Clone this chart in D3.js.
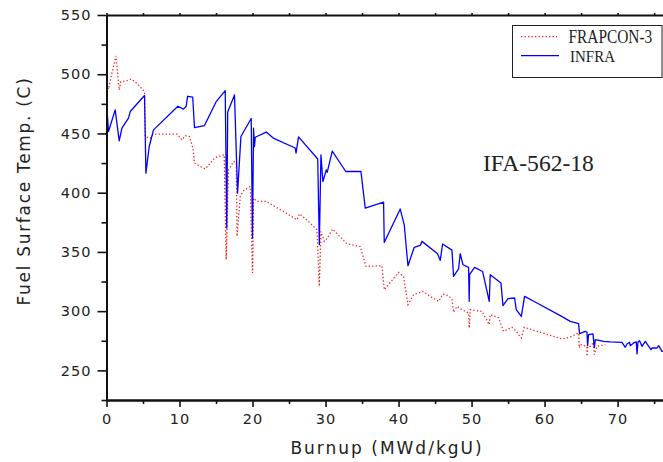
<!DOCTYPE html>
<html><head><meta charset="utf-8">
<script src="https://cdn.jsdelivr.net/npm/d3@7"></script>
<style>
html,body{margin:0;padding:0;background:#fff;}
svg{display:block;}
.tick text{font-family:"DejaVu Sans",sans-serif;font-size:14.5px;letter-spacing:1px;fill:#222;}
</style></head>
<body>
<svg id="chart" width="663" height="462"></svg>
<script>
// ---- data (burnup MWd/kgU, temperature C) ----
const infraBurnup = [0.0,0.05,0.27,1.19,1.74,2.11,3.01,3.25,5.21,5.40,5.85,6.44,9.78,10.55,10.92,11.10,11.81,12.05,13.42,15.0,16.26,16.47,16.6,17.53,17.95,18.41,19.82,19.99,20.14,20.27,20.37,21.88,22.84,25.85,25.96,26.30,28.93,29.15,29.37,29.64,30.10,30.23,30.92,32.77,34.85,35.44,37.95,38.04,40.23,40.78,41.15,41.29,42.15,42.97,43.21,45.34,45.71,46.03,47.32,47.53,48.22,48.45,48.82,49.59,49.68,49.73,50.41,51.51,52.42,52.56,54.03,54.30,54.99,55.89,56.12,56.81,57.26,58.96,62.15,63.52,64.66,64.79,65.58,65.81,65.89,66.03,66.63,66.81,66.95,68.08,69.0,70.60,71.05,71.29,71.64,71.74,72.19,72.56,72.66,72.79,73.01,73.34,73.79,74.58,74.71,75.40,75.62,76.08,76.5];
const infraTemp = [400.8,472.7,451.6,469.9,443.8,454.5,462.9,468.5,482.0,416.5,439.0,453.0,473.0,470.5,473.0,481.4,480.6,455.0,456.7,476.6,486.2,370.1,468.2,482.5,399.7,447.4,462.6,361.7,454.5,439.0,446.8,451.2,446.1,437.7,433.4,447.1,428.4,356.1,432.0,409.4,419.3,417.2,435.1,417.9,417.9,387.0,392.1,358.0,386.2,372.9,347.6,338.4,353.9,355.5,358.9,348.5,342.8,356.7,351.5,329.3,335.6,348.5,339.2,336.9,308.3,330.8,336.9,333.5,308.3,330.8,323.8,304.6,310.5,311.1,301.3,295.6,312.5,306.9,296.2,291.4,289.5,281.0,283.0,282.2,270.9,280.2,280.8,269.2,276.0,274.5,274.0,273.7,269.5,272.3,273.7,270.9,273.2,274.0,263.9,274.0,275.1,270.3,274.5,267.5,268.9,268.9,270.9,266.1,266.0];

const frapBurnup = [0.0,0.05,0.27,0.74,1.29,1.74,1.97,2.66,3.38,4.16,5.21,5.30,5.99,6.40,9.68,10.33,10.78,11.37,11.84,12.05,12.84,13.52,14.21,14.89,16.12,16.40,16.71,17.40,17.77,17.88,18.32,18.77,19.68,20.0,20.14,20.60,21.88,24.25,26.08,26.44,27.67,28.82,29.14,29.37,29.82,30.27,30.96,32.01,32.93,34.75,35.53,37.73,38.04,40.0,40.68,41.29,42.05,43.34,44.34,45.48,46.08,46.85,47.32,47.53,48.0,48.68,49.59,49.68,49.82,51.42,52.42,52.56,53.70,54.38,55.53,56.12,56.81,57.22,58.96,61.92,62.38,63.52,64.66,64.75,64.89,65.78,65.81,65.92,66.26,66.71,66.81,67.18,68.32];
const frapTemp = [468.0,490.0,487.3,500.8,515.4,486.8,493.8,494.3,496.0,492.4,485.3,447.4,446.0,449.4,449.4,444.6,448.2,447.4,437.6,425.0,422.1,420.1,425.0,429.7,432.0,343.4,419.3,426.3,425.2,363.1,396.8,401.6,405.2,332.2,395.4,392.6,392.6,384.1,377.1,382.2,375.7,368.7,320.9,367.3,358.9,361.7,369.3,362.6,356.9,354.6,337.8,338.4,318.1,332.7,329.3,305.5,313.9,316.7,312.5,308.3,314.5,313.1,309.7,299.0,304.0,301.3,298.5,285.8,301.3,299.8,288.6,297.2,294.4,283.0,286.4,283.0,277.4,286.4,283.0,277.4,276.5,278.2,281.6,269.0,271.8,270.3,261.9,270.3,270.3,273.7,263.3,270.3,271.7];

const seriesNames = ["FRAPCON-3","INFRA"];
const xMajorTicks = [0,10,20,30,40,50,60,70];
const xMinorTicks = [5,15,25,35,45,55,65,75];
const yMajorTicks = [250,300,350,400,450,500,550];
const yMinorTicks = [225,275,325,375,425,475,525];
const xTitle = "Burnup (MWd/kgU)";
const yTitle = "Fuel Surface Temp. (C)";
const annotation = "IFA-562-18";

// ---- layout ----
const svg = d3.select("#chart");
const L = 106.5, R = 663.3, T = 15, B = 400;
const x = d3.scaleLinear().domain([0, 76.26]).range([L, R]);
const y = d3.scaleLinear().domain([225, 550]).range([B, T]);

svg.append("defs").append("clipPath").attr("id","plot")
  .append("rect").attr("x", L - 1).attr("y", T).attr("width", R - L + 1).attr("height", B - T);

const g = svg.append("g").attr("clip-path","url(#plot)");
const line = d3.line().x(d => x(d[0])).y(d => y(d[1]));
const frap = frapBurnup.map((b,i) => [b, frapTemp[i]]);
const infra = infraBurnup.map((b,i) => [b, infraTemp[i]]);

g.append("path").datum(frap).attr("d", line)
  .attr("fill","none").attr("stroke","#ff1a1a").attr("stroke-width",1.3)
  .attr("stroke-dasharray","1.3 2.2");
g.append("path").datum(infra).attr("d", line)
  .attr("fill","none").attr("stroke","#0000ff").attr("stroke-width",1.3)
  .attr("stroke-linejoin","round");

// ---- axes ----
function styleAxis(sel, w){
  sel.select(".domain").attr("stroke","#111").attr("stroke-width",w);
  sel.selectAll(".tick line").attr("stroke","#111").attr("stroke-width",1.6);
}
// bottom
const xb = svg.append("g").attr("transform",`translate(0,${B})`)
  .call(d3.axisBottom(x).tickValues(xMajorTicks).tickSize(7).tickSizeOuter(0).tickPadding(7).tickFormat(d3.format("d")));
styleAxis(xb, 2);
const xbm = svg.append("g").attr("transform",`translate(0,${B})`)
  .call(d3.axisBottom(x).tickValues(xMinorTicks).tickSize(4).tickSizeOuter(0).tickFormat(""));
styleAxis(xbm, 2);
// top
const xt = svg.append("g").attr("transform",`translate(0,${T})`)
  .call(d3.axisTop(x).tickValues(xMajorTicks.concat(xMinorTicks)).tickSize(2).tickSizeOuter(0).tickFormat(""));
styleAxis(xt, 2.2);
// left
const yl = svg.append("g").attr("transform",`translate(${L},0)`)
  .call(d3.axisLeft(y).tickValues(yMajorTicks).tickSize(9).tickSizeOuter(0).tickPadding(6).tickFormat(d3.format("d")));
styleAxis(yl, 2);
const ylm = svg.append("g").attr("transform",`translate(${L},0)`)
  .call(d3.axisLeft(y).tickValues(yMinorTicks).tickSize(5).tickSizeOuter(0).tickFormat(""));
styleAxis(ylm, 2);

// titles
svg.append("text").attr("x", 387).attr("y", 454).attr("text-anchor","middle")
  .style("font-family","'DejaVu Sans',sans-serif").style("font-size","17px").style("letter-spacing","2px")
  .attr("fill","#222").text(xTitle);
svg.append("text").attr("transform","translate(30,191) rotate(-90)").attr("text-anchor","middle")
  .style("font-family","'DejaVu Sans',sans-serif").style("font-size","17px").style("letter-spacing","1.7px")
  .attr("fill","#222").text(yTitle);

// annotation
svg.append("text").attr("transform","translate(483,170.5) scale(1,0.95)")
  .style("font-family","'Liberation Serif',serif").style("font-size","23.6px")
  .attr("fill","#222").text(annotation);

// legend
const lg = svg.append("g");
lg.append("rect").attr("x",512.5).attr("y",25.5).attr("width",149.5).attr("height",52)
  .attr("fill","#fff").attr("stroke","#222").attr("stroke-width",1);
lg.append("line").attr("x1",521).attr("x2",557).attr("y1",36.7).attr("y2",36.7)
  .attr("stroke","#ff1a1a").attr("stroke-width",1.3).attr("stroke-dasharray","1.3 2.2");
lg.append("line").attr("x1",521).attr("x2",559).attr("y1",55.7).attr("y2",55.7)
  .attr("stroke","#0000ff").attr("stroke-width",1.3);
lg.append("text").attr("transform","translate(568.5,42.5) scale(1,1.18)")
  .style("font-family","'Liberation Serif',serif").style("font-size","15.4px").attr("fill","#222").text(seriesNames[0]);
lg.append("text").attr("transform","translate(570,61.7) scale(1,1.18)")
  .style("font-family","'Liberation Serif',serif").style("font-size","15px").attr("fill","#222").text(seriesNames[1]);
</script>
</body></html>
